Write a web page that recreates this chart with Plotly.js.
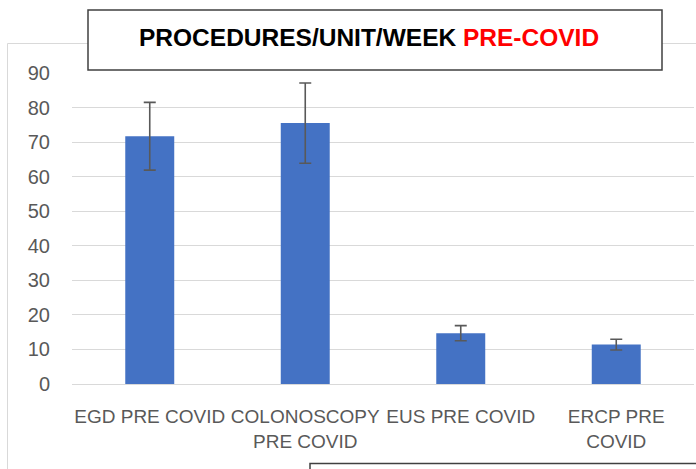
<!DOCTYPE html>
<html><head><meta charset="utf-8">
<script src="https://cdn.plot.ly/plotly-3.0.1.min.js"></script>
<style>html,body{margin:0;padding:0;background:#fff;}#chart{width:696px;height:469px;}</style>
</head><body><div id="chart"></div>
<script>
const categories = ["EGD PRE COVID", "COLONOSCOPY<br>PRE COVID", "EUS PRE COVID", "ERCP PRE<br>COVID"];
const values = [71.7, 75.5, 14.7, 11.4];
const errors = [9.8, 11.6, 2.2, 1.55];
const yTicks = [0, 10, 20, 30, 40, 50, 60, 70, 80, 90];

const L = 72, R = 694, T = 73, B = 384;
const W = 696, H = 469;
const px = x => (x - L) / (R - L);
const py = y => (B - y) / (B - T);

const trace = {
  type: 'bar', x: categories, y: values,
  marker: {color: '#4472C4'},
  error_y: {type: 'data', array: errors, visible: true, color: '#595959', thickness: 1.6, width: 6},
  hoverinfo: 'none'
};

const layout = {
  width: W, height: H,
  margin: {l: L, r: W - R, t: T, b: H - B, pad: 0},
  paper_bgcolor: '#fff', plot_bgcolor: '#fff',
  showlegend: false,
  bargap: 0.685,
  font: {family: 'Liberation Sans, Arial, sans-serif', color: '#595959', size: 20},
  xaxis: {showgrid: false, showline: false, zeroline: false, ticks: '', ticklabelstandoff: 19, tickangle: 0,
          tickfont: {size: 19, color: '#595959'}, automargin: false},
  yaxis: {range: [0, 90], tickvals: yTicks, ticktext: yTicks.map(String), showgrid: true, gridcolor: '#d9d9d9', gridwidth: 1,
          zeroline: true, zerolinecolor: '#d9d9d9', zerolinewidth: 1, showline: false, ticks: '', ticklabelstandoff: 21,
          tickfont: {size: 20, color: '#595959'}, automargin: false},
  shapes: [
    {type: 'rect', xref: 'paper', yref: 'paper', x0: px(7.5), x1: px(720), y0: py(43.5), y1: py(500), line: {color: '#d9d9d9', width: 1}, fillcolor: 'rgba(0,0,0,0)', layer: 'below'},
    {type: 'rect', xref: 'paper', yref: 'paper', x0: px(88), x1: px(662), y0: py(10), y1: py(70), line: {color: '#404040', width: 1.5}, fillcolor: '#ffffff', layer: 'above'},
    {type: 'rect', xref: 'paper', yref: 'paper', x0: px(310), x1: px(720), y0: py(463.5), y1: py(500), line: {color: '#404040', width: 1.5}, fillcolor: '#ffffff', layer: 'above'}
  ],
  annotations: [
    {xref: 'paper', yref: 'paper', x: px(368.5), y: py(37), xanchor: 'center', yanchor: 'middle', showarrow: false,
     text: "<b>PROCEDURES/UNIT/WEEK <span style='color:#FF0000'>PRE-COVID</span></b>",
     font: {family: 'Liberation Sans, Arial, sans-serif', size: 24.5, color: '#000000'}}
  ]
};

Plotly.newPlot('chart', [trace], layout, {staticPlot: true, displayModeBar: false});
</script>
</body></html>
